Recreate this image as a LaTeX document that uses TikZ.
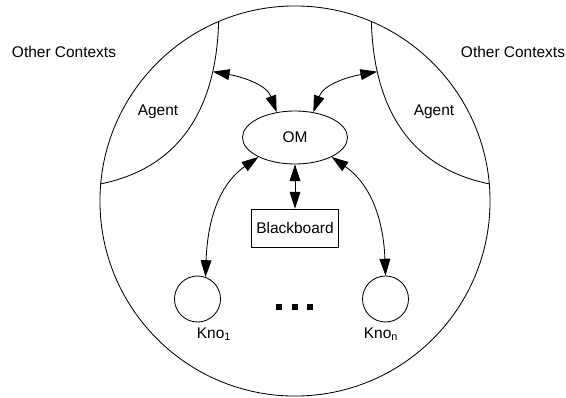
\documentclass[tikz,border=0pt]{standalone}
\usepackage{fontspec}
\setmainfont{Liberation Sans}
\usetikzlibrary{arrows.meta}
\usetikzlibrary{shapes.geometric}
\usetikzlibrary{positioning}
\tikzstyle{context} = [circle, draw=black, minimum size=9.75cm, inner sep=0pt]
\tikzstyle{om} = [ellipse, draw=black, minimum width=2.625cm, minimum height=1.325cm, inner sep=0pt]
\tikzstyle{board} = [rectangle, draw=black, minimum width=2.175cm, minimum height=0.95cm, inner sep=0pt]
\tikzstyle{kno} = [circle, draw=black, minimum size=1.15cm, inner sep=0pt]
\tikzstyle{dot} = [rectangle, fill=black, minimum size=0.15cm, inner sep=0pt]
\tikzstyle{link} = [<->]

\begin{document}
\begin{tikzpicture}[x=0.025cm, y=0.025cm, line width=0.6pt,
  >={Triangle[length=0.42cm,width=0.27cm]}, font=\fontsize{11}{13}\selectfont]
\useasboundingbox (0,0) rectangle (566,397);
\node (ctx) [context] at (295,196) {};
% agent borders
\draw (ctx.113) .. controls (217,310) and (195,232) .. (ctx.175) coordinate[pos=0.25] (la);
\draw (ctx.67) .. controls (373,310) and (395,232) .. (ctx.5) coordinate[pos=0.25] (ra);
\node (ctxl) at (64,345) {Other Contexts};
\node (ctxr) at (513,345) {Other Contexts};
\node (agl) at (158,285) {Agent};
\node (agr) at (434,285) {Agent};
\node (om) [om] at (295,259.5) {OM};
\node (bb) [board] at (295,169) {Blackboard};
\node (kno1) [kno] at (197.5,98) {};
\node (knon) [kno] at (385.5,98) {};
\node (kno1lab) [anchor=base] at (214,59) {Kno\textsubscript{1}};
\node (knonlab) [anchor=base] at (381,59) {Kno\textsubscript{n}};
\foreach \x [count=\i] in {279,294.5,310}
  \node (dot\i) [dot] at (\x,90) {};
% links
\draw[link] (la) to[out=-10,in=110] (om.126);
\draw[link] (ra) to[out=190,in=70] (om.54);
\draw[link] (om.208) to[out=215,in=88] (kno1.70);
\draw[link] (om.332) to[out=-35,in=92] (knon.north);
\draw[link] (om.south) -- (bb.north);
\end{tikzpicture}
\end{document}
